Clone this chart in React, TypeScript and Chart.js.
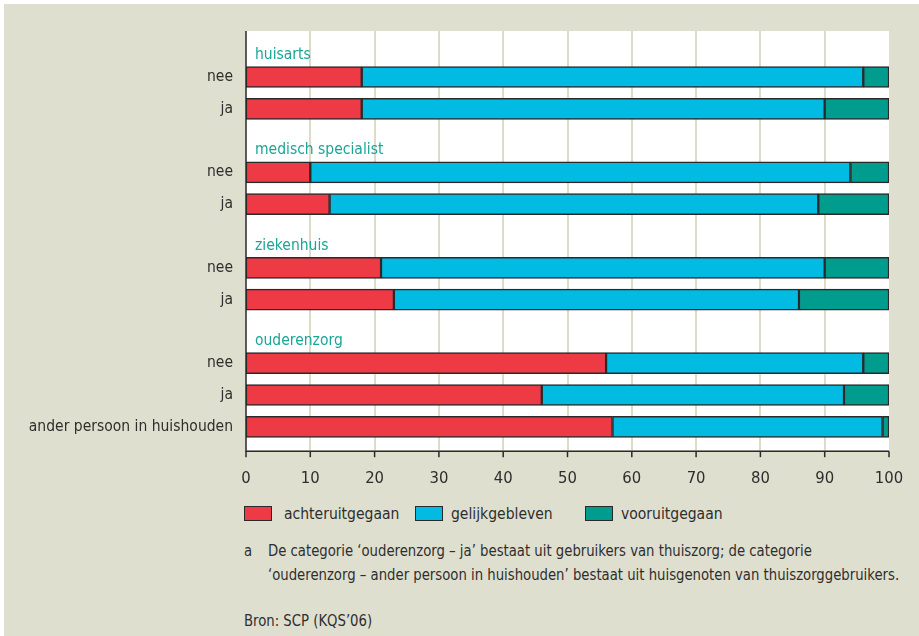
import React, { useEffect, useRef } from "react";
import { Chart, registerables } from "chart.js";

Chart.register(...registerables);

// ---- data ----
const groupNames = ["huisarts", "medisch specialist", "ziekenhuis", "ouderenzorg"];
const rowLabels = ["nee", "ja", "nee", "ja", "nee", "ja", "nee", "ja", "ander persoon in huishouden"];
const rowGroup = [0, 0, 1, 1, 2, 2, 3, 3, 3];
const achteruitgegaan = [18, 18, 10, 13, 21, 23, 56, 46, 57];
const gelijkgebleven = [78, 72, 84, 76, 69, 63, 40, 47, 42];
const vooruitgegaan = [4, 10, 6, 11, 10, 14, 4, 7, 1];
const seriesNames = ["achteruitgegaan", "gelijkgebleven", "vooruitgegaan"];
const xTicks = [0, 10, 20, 30, 40, 50, 60, 70, 80, 90, 100];
const footnoteLines = [
  "De categorie \u2018ouderenzorg \u2013 ja\u2019 bestaat uit gebruikers van thuiszorg; de categorie",
  "\u2018ouderenzorg \u2013 ander persoon in huishouden\u2019 bestaat uit huisgenoten van thuiszorggebruikers.",
];
const sourceText = "Bron: SCP (KQS\u201906)";

// ---- styles ----
const COLORS = ["#ee3a44", "#02bbe3", "#009c8e"];
const BG = "#dfdfcf";
const GRID = "#dcdccb";
const TEXT = "#2e2e2e";
const HEAD = "#1aa597";
const FONT = "'Liberation Sans Narrow', 'DejaVu Sans Condensed', 'Arial Narrow', sans-serif";
const CW = 915;
const CH = 490;

// build category rows (header rows are empty slots)
const labels: string[] = [];
const headerIndex: number[] = [];
const rowIndex: number[] = [];
groupNames.forEach((g, gi) => {
  headerIndex.push(labels.length);
  labels.push("");
  rowLabels.forEach((lab, ri) => {
    if (rowGroup[ri] === gi) {
      rowIndex.push(labels.length);
      labels.push(lab);
    }
  });
});
function spread(vals: number[]) {
  const out: (number | null)[] = labels.map(() => null);
  vals.forEach((v, i) => (out[rowIndex[i]] = v));
  return out;
}

const decor = {
  id: "decor",
  beforeDraw(chart: any) {
    const { ctx, chartArea, scales } = chart;
    const { left, right, top, bottom } = chartArea;
    const bgTop = top + 1.7;
    const bgBottom = bottom + 7.8;
    ctx.save();
    ctx.fillStyle = "#ffffff";
    ctx.fillRect(left, bgTop, right - left, bgBottom - bgTop);
    ctx.strokeStyle = GRID;
    ctx.lineWidth = 2;
    xTicks.forEach((v) => {
      if (v === 0 || v === 100) return;
      const px = Math.round(scales.x.getPixelForValue(v));
      ctx.beginPath();
      ctx.moveTo(px, bgTop);
      ctx.lineTo(px, bgBottom);
      ctx.stroke();
    });
    ctx.restore();
  },
  afterDatasetsDraw(chart: any) {
    const { ctx, chartArea, scales } = chart;
    const { left, right, top, bottom } = chartArea;
    const bgTop = top + 1.7;
    const axisY = bottom + 8.5;
    ctx.save();
    ctx.strokeStyle = "#2a2a2a";
    ctx.lineWidth = 1.5;
    ctx.beginPath();
    ctx.moveTo(left, bgTop);
    ctx.lineTo(left, axisY);
    ctx.lineTo(right, axisY);
    ctx.stroke();
    xTicks.forEach((v) => {
      const px = scales.x.getPixelForValue(v);
      ctx.beginPath();
      ctx.moveTo(px, axisY);
      ctx.lineTo(px, axisY + 6);
      ctx.stroke();
    });
    ctx.fillStyle = HEAD;
    ctx.font = `15.5px ${FONT}`;
    ctx.textAlign = "left";
    ctx.textBaseline = "alphabetic";
    groupNames.forEach((g, gi) => {
      const py = scales.y.getPixelForValue(headerIndex[gi]);
      ctx.fillText(g, left + 9, py + 13.5);
    });
    ctx.restore();
  },
};

function ChartCanvas() {
  const ref = useRef<HTMLCanvasElement | null>(null);
  useEffect(() => {
    if (!ref.current) return;
    const series = [achteruitgegaan, gelijkgebleven, vooruitgegaan];
    const chart = new Chart(ref.current, {
      type: "bar",
      data: {
        labels,
        datasets: series.map((s, i) => ({
          label: seriesNames[i],
          data: spread(s),
          backgroundColor: COLORS[i],
          borderColor: "#2a2a2a",
          borderWidth: 1.5,
          borderSkipped: false,
          barThickness: 21,
        })),
      },
      options: {
        responsive: false,
        animation: false,
        indexAxis: "y",
        layout: { padding: { top: 25.3, right: 30, left: 0, bottom: 0 } },
        plugins: { legend: { display: false }, tooltip: { enabled: false } },
        scales: {
          x: {
            stacked: true,
            min: 0,
            max: 100,
            afterBuildTicks: (s: any) => {
              s.ticks = xTicks.map((v) => ({ value: v }));
            },
            ticks: { color: TEXT, font: { family: FONT, size: 16.5 }, padding: 26 },
            grid: { display: false, drawTicks: false },
            border: { display: false },
            afterFit: (s: any) => {
              s.height = CH - 438.7;
              s.paddingLeft = 0;
              s.paddingRight = 0;
            },
          },
          y: {
            stacked: true,
            ticks: { color: TEXT, font: { family: FONT, size: 15.5 }, padding: 13, autoSkip: false },
            grid: { display: false, drawTicks: false },
            border: { display: false },
            afterFit: (s: any) => {
              s.width = 242;
              s.paddingTop = 0;
              s.paddingBottom = 0;
            },
          },
        },
      },
      plugins: [decor],
    });
    return () => chart.destroy();
  }, []);
  return <canvas ref={ref} width={CW} height={CH} style={{ position: "absolute", left: 0, top: 0, width: CW, height: CH }} />;
}

export default function App() {
  const txt: React.CSSProperties = {
    position: "absolute",
    fontFamily: FONT,
    fontSize: 16,
    color: TEXT,
    whiteSpace: "nowrap",
    lineHeight: "20px",
    transform: "scaleX(0.92)",
    transformOrigin: "left center",
  };
  const legTxt: React.CSSProperties = { ...txt, transform: "scaleX(0.97)" };
  const legendLeft = [240, 411, 581];
  const legendTextLeft = [280, 447, 617];
  return (
    <div style={{ position: "fixed", left: 0, top: 0, width: 919, height: 636, background: "#ffffff" }}>
      <div style={{ position: "absolute", left: 4, top: 4, width: 915, height: 632, background: BG, overflow: "hidden" }}>
        <ChartCanvas />
        {seriesNames.map((n, i) => (
          <React.Fragment key={n}>
            <div
              style={{
                position: "absolute",
                left: legendLeft[i],
                top: 502,
                width: 28,
                height: 15,
                boxSizing: "border-box",
                border: "1.5px solid #2a2a2a",
                background: COLORS[i],
              }}
            />
            <div style={{ ...legTxt, left: legendTextLeft[i], top: 500 }}>{n}</div>
          </React.Fragment>
        ))}
        <div style={{ ...txt, left: 240, top: 537 }}>a</div>
        <div style={{ ...txt, left: 264, top: 537 }}>{footnoteLines[0]}</div>
        <div style={{ ...txt, left: 264, top: 561 }}>{footnoteLines[1]}</div>
        <div style={{ ...txt, left: 240, top: 607 }}>{sourceText}</div>
      </div>
    </div>
  );
}
